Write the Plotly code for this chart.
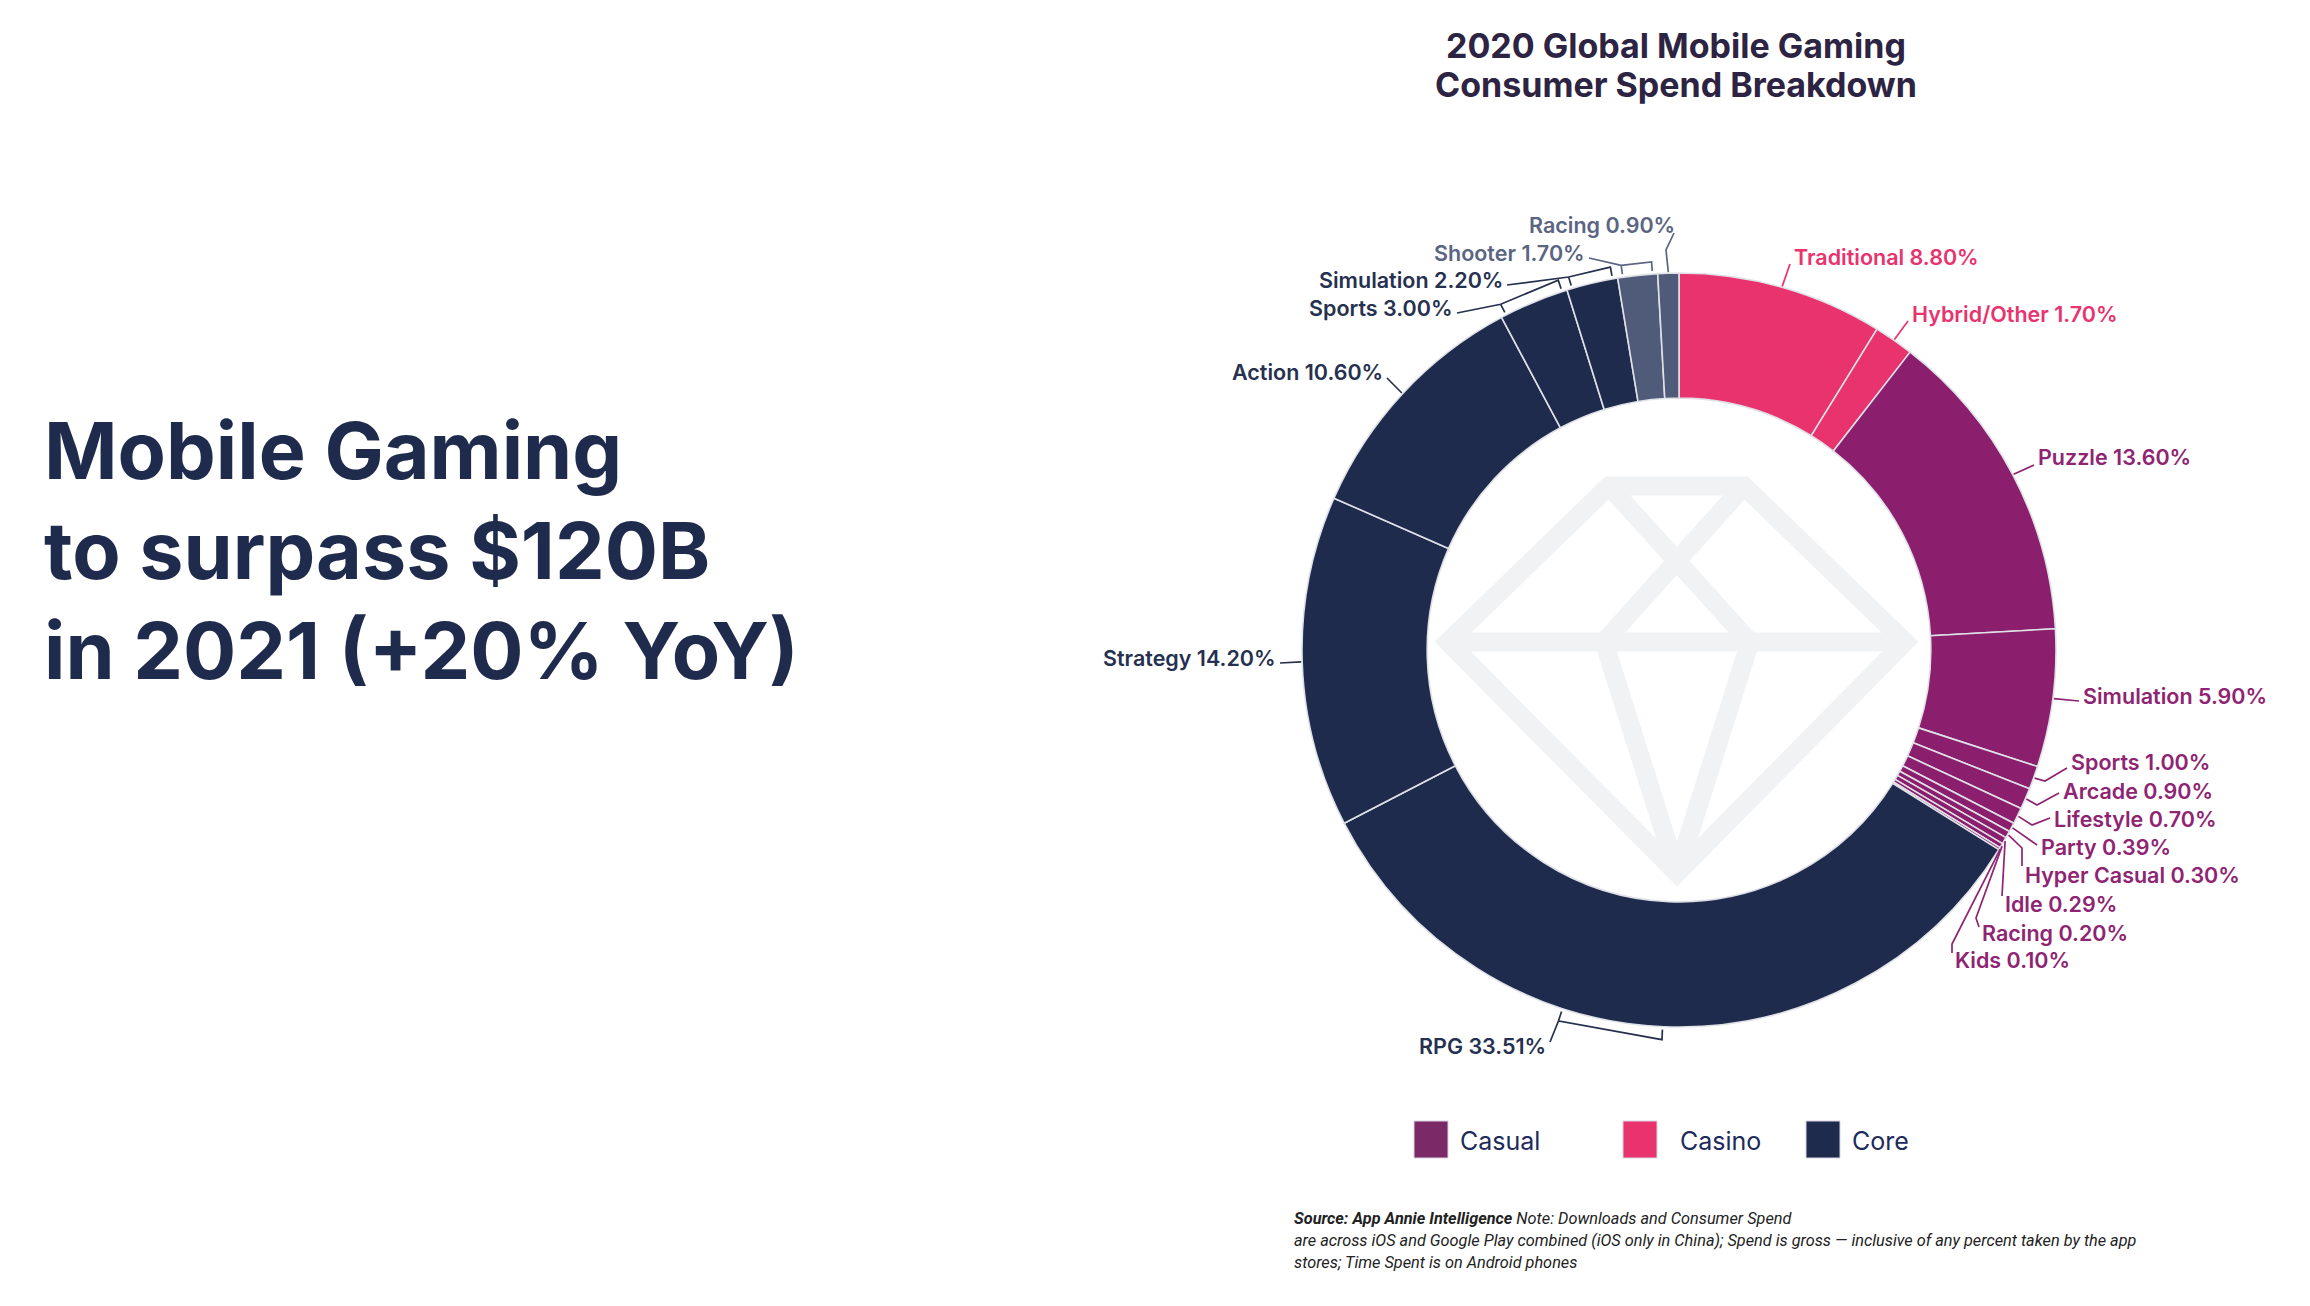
import math
import plotly.graph_objects as go

W, H = 2310, 1306
OFF = 8  # default page body margin in the browser
FW, FH = W - OFF, H - OFF

# ---------------- data ----------------
genres = ["Traditional", "Hybrid/Other", "Puzzle", "Simulation", "Sports", "Arcade",
          "Lifestyle", "Party", "Hyper Casual", "Idle", "Racing", "Kids",
          "RPG", "Strategy", "Action", "Sports", "Simulation", "Shooter", "Racing"]
shares = [8.80, 1.70, 13.60, 5.90, 1.00, 0.90, 0.70, 0.39, 0.30, 0.29, 0.20, 0.10,
          33.51, 14.20, 10.60, 3.00, 2.20, 1.70, 0.90]
groups = ["Casino"] * 2 + ["Casual"] * 10 + ["Core"] * 7
legend_groups = ["Casual", "Casino", "Core"]

# ---------------- styles ----------------
group_fill = {"Casino": "#e9336f", "Casual": "#8b1e6d", "Core": "#1f2b4d"}
group_text = {"Casino": "#e8336e", "Casual": "#8e2472", "Core": "#26304f"}
legend_fill = {"Casual": "#7b2a67", "Casino": "#e9336f", "Core": "#1f2b4d"}
light_core = "#4f5b79"
light_core_text = "#5a6582"
light_core_genres = {"Shooter", "Racing"}

slice_colors, text_colors = [], []
for g, grp in zip(genres, groups):
    if grp == "Core" and g in light_core_genres:
        slice_colors.append(light_core)
        text_colors.append(light_core_text)
    else:
        slice_colors.append(group_fill[grp])
        text_colors.append(group_text[grp])

labels = [f"{g} {v:.2f}%" for g, v in zip(genres, shares)]

# ---------------- geometry (page pixels) ----------------
CX, CY, R = 1679, 650, 377
HOLE = 0.668


def px(x):
    return (x - OFF) / FW


def py(y):
    return 1 - (y - OFF) / FH


def pt(theta, r):
    a = math.radians(theta)
    return CX + r * math.sin(a), CY - r * math.cos(a)


total = sum(shares)
starts, ends = [], []
acc = 0.0
for v in shares:
    starts.append(acc / total * 360)
    acc += v
    ends.append(acc / total * 360)
mids = [(a + b) / 2 for a, b in zip(starts, ends)]

fig = go.Figure()
fig.add_trace(go.Pie(
    labels=labels, values=shares, sort=False, direction="clockwise", rotation=0,
    hole=HOLE, textinfo="none", hoverinfo="label",
    marker=dict(colors=slice_colors, line=dict(color="#dfe1e7", width=1.6)),
    domain=dict(x=[px(CX - R), px(CX + R)], y=[py(CY + R), py(CY - R)]),
    showlegend=False,
))

shapes, annotations = [], []

# diamond watermark in the hole
dia = [
    "M 1609 486 L 1744 486 L 1905 642 L 1677 873 L 1448 642 Z",
    "M 1448 642 L 1905 642",
    "M 1609 486 L 1750 642",
    "M 1744 486 L 1604 642",
    "M 1604 642 L 1677 873",
    "M 1750 642 L 1677 873",
]


def path_paper(d):
    out = []
    toks = d.split()
    i = 0
    while i < len(toks):
        t = toks[i]
        if t in ("M", "L"):
            out.append(f"{t} {px(float(toks[i+1])):.6f},{py(float(toks[i+2])):.6f}")
            i += 3
        else:
            out.append(t)
            i += 1
    return " ".join(out)


for d in dia:
    shapes.append(dict(type="path", xref="paper", yref="paper", path=path_paper(d),
                       line=dict(color="#f1f2f4", width=19), layer="below"))

# label layout: (text x, text y, anchor, leader start/elbow points, mode)
label_layout = {
    0: (1792, 257, "left", [(1790, 264)], "mid"),
    1: (1910, 314, "left", [(1908, 321)], "mid"),
    2: (2036, 457, "left", [(2034, 465)], "mid"),
    3: (2081, 696, "left", [(2079, 701)], "mid"),
    4: (2069, 762, "left", [(2067, 768), (2045, 781)], "mid"),
    5: (2061, 791, "left", [(2059, 793), (2037, 805)], "mid"),
    6: (2052, 819, "left", [(2050, 818), (2032, 825)], "mid"),
    7: (2039, 847, "left", [(2037, 845)], "mid"),
    8: (2023, 875, "left", [(2022, 866), (2022, 848)], "mid"),
    9: (2003, 904, "left", [(2002, 896)], "mid"),
    10: (1980, 933, "left", [(1979, 927), (1976, 918)], "mid"),
    11: (1953, 960, "left", [(1952, 953), (1952, 944)], "mid"),
    12: (1548, 1046, "right", [(1550, 1042)], ("bracket", 198, 182.5, 13, 3)),
    13: (1278, 658, "right", [(1280, 663)], "mid"),
    14: (1385, 372, "right", [(1387, 378)], "mid"),
    15: (1455, 308, "right", [(1457, 313)], "slicebracket"),
    16: (1505, 280, "right", [(1507, 285)], "slicebracket"),
    17: (1587, 253, "right", [(1589, 258)], "slicebracket"),
    18: (1677, 225, "right", [(1674, 233), (1666, 250)], "mid"),
}

for i, (tx, ty, anc, lead, mode) in label_layout.items():
    col = text_colors[i]
    annotations.append(dict(
        x=px(tx), y=py(ty), xref="paper", yref="paper", text=labels[i],
        showarrow=False, xanchor=anc, yanchor="middle",
        font=dict(family="Inter", size=21.5, color=col, weight=600)))
    pts = list(lead)
    extra = ""
    if mode == "mid":
        pts.append(pt(mids[i], R + 1))
    else:
        if mode == "slicebracket":
            a0, a1, rt, rb = starts[i] + 0.8, ends[i] - 0.8, 12, 3
        else:
            _, a0, a1, rt, rb = mode
        A_top, B_top = pt(a0, R + rt), pt(a1, R + rt)
        A_bot, B_bot = pt(a0, R + rb), pt(a1, R + rb)
        pts += [A_top, B_top, B_bot]
        extra = f" M {A_top[0]} {A_top[1]} L {A_bot[0]} {A_bot[1]}"
    d = "M " + " L ".join(f"{x} {y}" for x, y in pts) + extra
    shapes.append(dict(type="path", xref="paper", yref="paper", path=path_paper(d),
                       line=dict(color=col, width=1.7), layer="above"))

# title
for txt, y in [("2020 Global Mobile Gaming", 45), ("Consumer Spend Breakdown", 85)]:
    annotations.append(dict(x=px(1676), y=py(y), xref="paper", yref="paper", text=f"<b>{txt}</b>",
                            showarrow=False, xanchor="center", yanchor="middle",
                            font=dict(family="Inter", size=34, color="#2d2342")))

# headline
for txt, y in [("Mobile Gaming", 450), ("to surpass $120B", 550), ("in 2021 (+20% YoY)", 650)]:
    annotations.append(dict(x=px(42), y=py(y), xref="paper", yref="paper", text=f"<b>{txt}</b>",
                            showarrow=False, xanchor="left", yanchor="middle",
                            font=dict(family="Inter", size=79, color="#1f2b4d")))

# legend
legend_pos = {"Casual": (1414, 1458), "Casino": (1623, 1678), "Core": (1806, 1850)}
for g in legend_groups:
    sx, tx = legend_pos[g]
    shapes.append(dict(type="rect", xref="paper", yref="paper",
                       x0=px(sx), x1=px(sx + 34), y0=py(1121), y1=py(1158),
                       fillcolor=legend_fill[g], line=dict(color="#d9d3e0", width=1)))
    annotations.append(dict(x=px(tx), y=py(1141), xref="paper", yref="paper", text=g,
                            showarrow=False, xanchor="left", yanchor="middle",
                            font=dict(family="Inter", size=25, color="#1d2a5c")))

# source note
src_lines = [
    ("<b>Source: App Annie Intelligence</b> Note: Downloads and Consumer Spend", 1218),
    ("are across iOS and Google Play combined (iOS only in China); Spend is gross — inclusive of any percent taken by the app", 1240),
    ("stores; Time Spent is on Android phones", 1262),
]
for txt, y in src_lines:
    annotations.append(dict(x=px(1292), y=py(y), xref="paper", yref="paper", text=f"<i>{txt}</i>",
                            showarrow=False, xanchor="left", yanchor="middle",
                            font=dict(family="Roboto", size=16.3, color="#222222")))

fig.update_layout(
    width=FW, height=FH, margin=dict(l=0, r=0, t=0, b=0),
    paper_bgcolor="white", plot_bgcolor="white",
    shapes=shapes, annotations=annotations, showlegend=False,
)
fig.write_html("out.html")
